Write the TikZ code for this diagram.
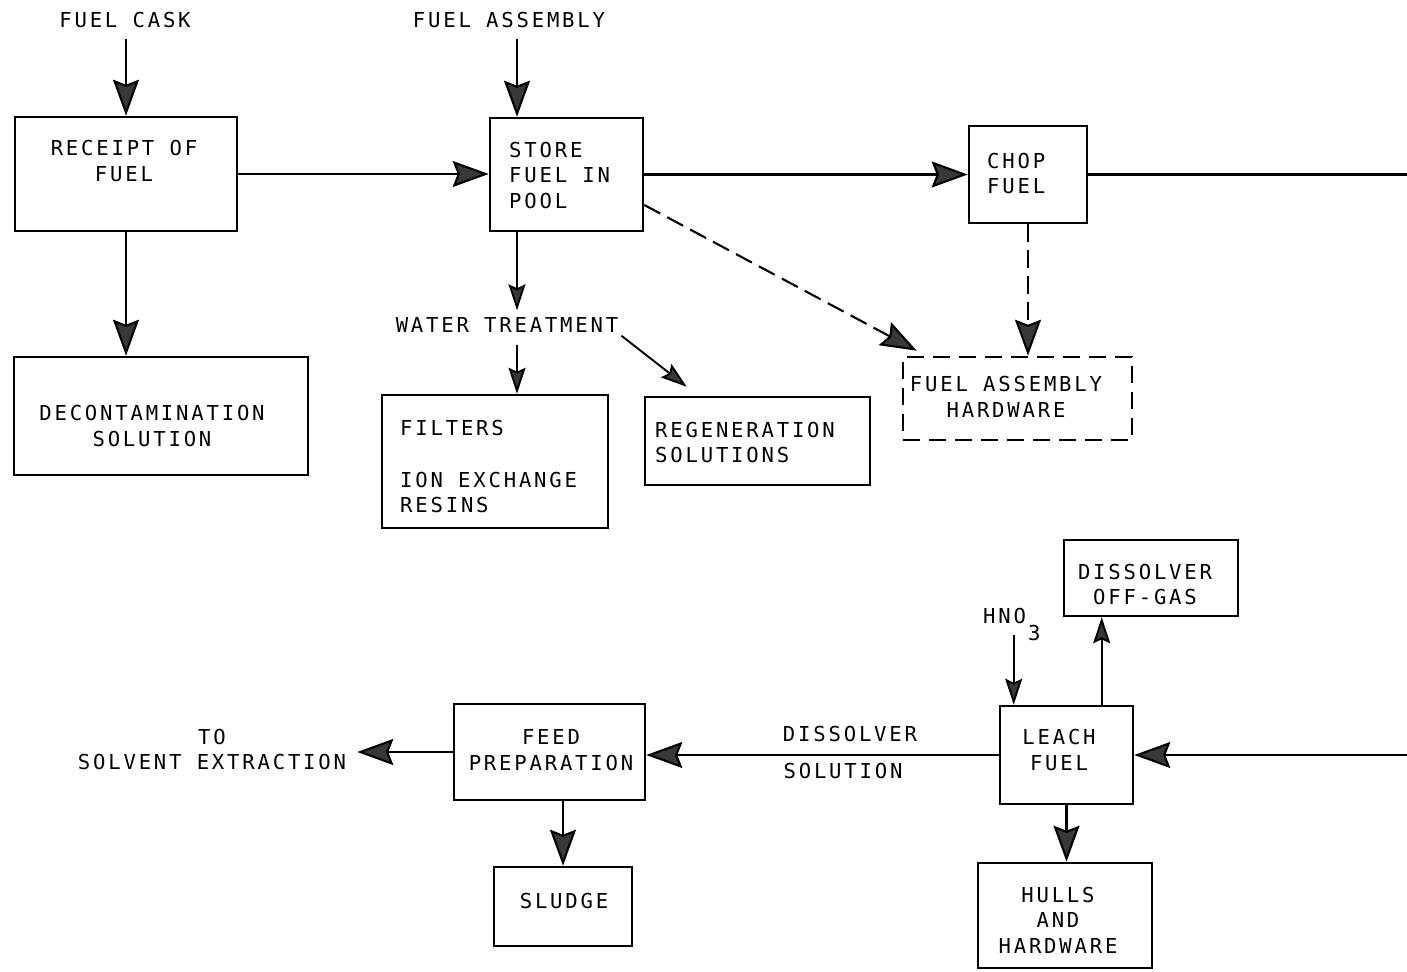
\documentclass[tikz,border=0pt]{standalone}
\usepackage{fontspec}
\newfontfamily\plotfont[LetterSpace=13.6]{DejaVu Sans Mono}
\usetikzlibrary{arrows.meta,calc}
\definecolor{headfill}{gray}{0.22}
\tikzset{
  box/.style={draw, line width=2.6pt, rectangle, inner sep=0pt},
  dbox/.style={box, dash pattern=on 17pt off 9pt},
  txt/.style={inner sep=3pt, font=\plotfont\fontsize{20.6}{25.5}\selectfont},
  flow/.style={line width=2.1pt, -{Stealth[length=36pt,width=26pt,inset=5pt,fill=headfill]}},
  thin flow/.style={line width=1.9pt, -{Stealth[length=26pt,width=17pt,inset=4pt,fill=headfill]}},
  dflow/.style={flow, dash pattern=on 18pt off 8pt},
}
\begin{document}
\begin{tikzpicture}[x=1pt,y=-1pt]
\fill[white] (0,0) rectangle (1407,971);
\useasboundingbox (0,0) rectangle (1407,971);

% process and waste boxes
\node[box, minimum width=222pt, minimum height=114pt] (receipt) at (126,174) {};
\node[box, minimum width=153pt, minimum height=113pt] (store) at (566.5,174.5) {};
\node[box, minimum width=118pt, minimum height=97pt] (chop) at (1028,174.5) {};
\node[dbox, minimum width=229pt, minimum height=83pt] (hw) at (1017.5,398.5) {};
\node[box, minimum width=294pt, minimum height=118pt] (decon) at (161,416) {};
\node[box, minimum width=226pt, minimum height=133pt] (filters) at (495,461.5) {};
\node[box, minimum width=225pt, minimum height=88pt] (regen) at (757.5,441) {};
\node[box, minimum width=174pt, minimum height=76pt] (offgas) at (1151,578) {};
\node[box, minimum width=133pt, minimum height=98pt] (leach) at (1066.5,755) {};
\node[box, minimum width=174pt, minimum height=105pt] (hulls) at (1065,915.5) {};
\node[box, minimum width=191pt, minimum height=96pt] (feed) at (549.5,752) {};
\node[box, minimum width=138pt, minimum height=79pt] (sludge) at (563,906.5) {};

% box texts
\node[txt, align=center] (receipttxt) at (124,161) {RECEIPT OF\\FUEL};
\node[txt, align=left, anchor=west] (storetxt) at (506,175.5) {STORE\\FUEL IN\\POOL};
\node[txt, align=left, anchor=west] (choptxt) at (984,173.5) {CHOP\\FUEL};
\node[txt, align=center] (hwtxt) at (1006,397) {FUEL ASSEMBLY\\HARDWARE};
\node[txt, align=center] (decontxt) at (152,426) {DECONTAMINATION\\SOLUTION};
\node[txt, align=left, anchor=west] (filterstxt) at (397,466.5) {FILTERS\\[26pt]ION EXCHANGE\\RESINS};
\node[txt, align=left, anchor=west] (regentxt) at (652,442.5) {REGENERATION\\SOLUTIONS};
\node[txt, align=center] (offgastxt) at (1145,584.5) {DISSOLVER\\OFF-GAS};
\node[txt, align=center] (leachtxt) at (1059,750) {LEACH\\FUEL};
\node[txt, align=center] (hullstxt) at (1058,920) {HULLS\\AND\\HARDWARE};
\node[txt, align=center] (feedtxt) at (551,750) {FEED\\PREPARATION};
\node[txt] (sludgetxt) at (564,901) {SLUDGE};

% stream labels
\node[txt] (cask) at (125,20) {FUEL CASK};
\node[txt] (fa) at (509,20) {FUEL ASSEMBLY};
\node[txt] (wt) at (507,325) {WATER TREATMENT};
\node[txt] (diss) at (850,734) {DISSOLVER};
\node[txt] (soln) at (843,771) {SOLUTION};
\node[txt, align=center] (solv) at (212,749.5) {TO\\SOLVENT EXTRACTION};
\node[txt, anchor=base west, inner sep=0pt] (hno) at (983,623) {HNO\kern2pt\raisebox{-17pt}{3}};

% connection points
\coordinate (storetop) at ($(store.north)+(-49.5,0)$);
\coordinate (storebot) at ($(store.south)+(-49.5,0)$);
\coordinate (rt1) at (1407,174.5);
\coordinate (rt2) at (1407,755);
\coordinate (acidin) at ($(leach.north west)+(15,0)$);
\coordinate (gasout) at ($(leach.north west)+(103,0)$);

% head end
\draw[flow, shorten <=8pt] (cask.south -| receipt.north) -- (receipt.north);
\draw[flow, shorten <=8pt] (fa.south -| storetop) -- (storetop);
\draw[flow] (receipt.east) -- (receipt.east -| store.west);
\draw[flow] (store.east) -- (chop.west);
\draw[line width=2.1pt] (chop.east) -- (rt1);
\draw[flow] (receipt.south) -- (receipt.south |- decon.north);
\draw[thin flow, shorten >=4pt] (storebot) -- (storebot |- wt.north);
\draw[thin flow, shorten <=9pt] (wt.south -| storebot) -- (storebot |- filters.north);
\draw[thin flow] (wt.south east) -- ($(regen.north west)+(43,-9)$);
\draw[dflow] ($(store.east)+(0,30.5)$) -- ($(hw.north west)+(15,-5)$);
\draw[dflow] (chop.south) -- (chop.south |- hw.north);

% dissolution and feed preparation
\draw[flow] (rt2) -- (leach.east);
\draw[thin flow] ($(hno.base -| acidin)+(0,12)$) -- (acidin);
\draw[thin flow] (gasout) -- (gasout |- offgas.south);
\draw[flow] (leach.south) -- (leach.south |- hulls.north);
\draw[flow] (leach.west) -- (leach.west -| feed.east);
\draw[flow] (feed.west) -- ($(feed.west -| solv.east)+(8,0)$);
\draw[flow] (sludge.north |- feed.south) -- (sludge.north);
\end{tikzpicture}
\end{document}
